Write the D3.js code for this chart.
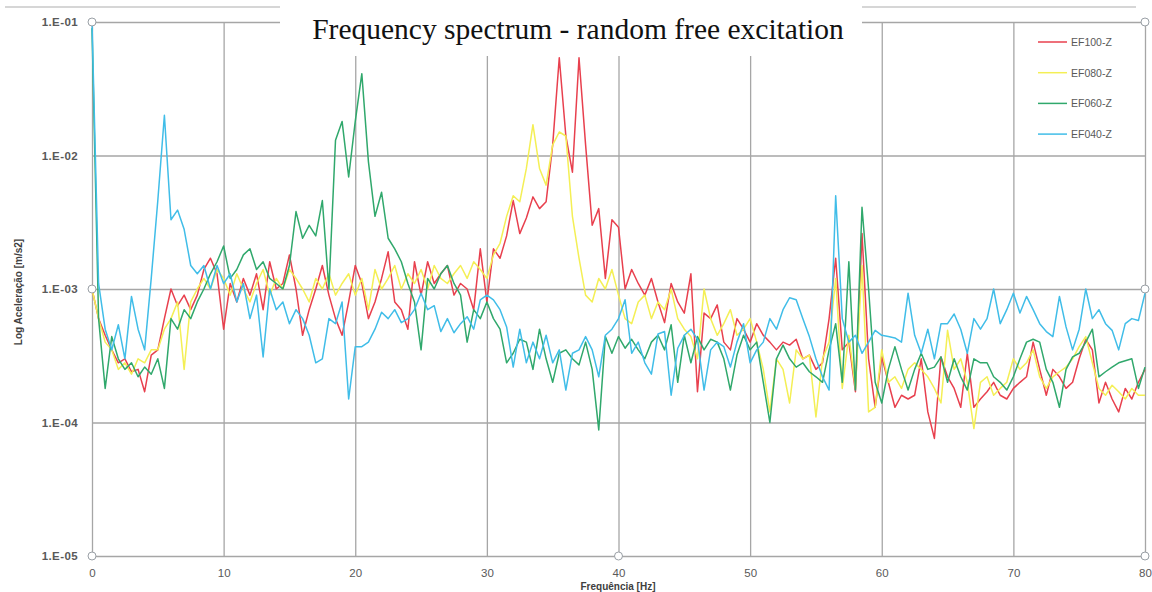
<!DOCTYPE html>
<html>
<head>
<meta charset="utf-8">
<script src="https://cdn.jsdelivr.net/npm/d3@7"></script>
<style>
  body { margin: 0; background: #fff; }
  svg { display: block; }
  .tick text { font-family: "Liberation Sans", Arial, sans-serif; fill: #595959; }
</style>
</head>
<body>
<svg id="chart" width="1152" height="592"></svg>
<script>
'use strict';

// frequency bins, 0.5 Hz step from 0 to 80 Hz
const freqs = d3.range(0, 80.25, 0.5);

const seriesNames = ["EF100-Z", "EF080-Z", "EF060-Z", "EF040-Z"];
const seriesColors = ["#e8404e", "#f4ef55", "#30a86c", "#40bde8"];

const ef100 = [
  1.0e-3, 6e-4, 4.5e-4, 3.5e-4, 2.8e-4, 3e-4, 2.4e-4, 2.5e-4, 1.7e-4, 3.2e-4,
  3.5e-4, 6e-4, 1.0e-3, 7.5e-4, 9e-4, 7e-4, 9e-4, 1.4e-3, 1.7e-3, 1.3e-3,
  5e-4, 1.1e-3, 8e-4, 1.2e-3, 9e-4, 1.3e-3, 7e-4, 1.6e-3, 1.0e-3, 1.1e-3,
  1.8e-3, 1.0e-3, 4.5e-4, 7e-4, 1.0e-3, 1.5e-3, 9e-4, 6e-4, 4.5e-4, 8e-4,
  1.5e-3, 1.1e-3, 6e-4, 8e-4, 1.2e-3, 1.9e-3, 8e-4, 7e-4, 5e-4, 1.6e-3,
  9e-4, 1.6e-3, 1.1e-3, 1.3e-3, 1.5e-3, 9e-4, 1.1e-3, 1.0e-3, 7e-4, 2.0e-3,
  8e-4, 2.0e-3, 1.7e-3, 2.5e-3, 4.6e-3, 2.6e-3, 3.4e-3, 4.9e-3, 4.0e-3, 4.5e-3,
  1.2e-2, 5.4e-2, 1.4e-2, 7.5e-3, 5.4e-2, 1.2e-2, 3.0e-3, 4.0e-3, 1.2e-3, 3.3e-3,
  2.9e-3, 1.0e-3, 1.4e-3, 1.1e-3, 9e-4, 1.2e-3, 8e-4, 5.6e-4, 1.1e-3, 8e-4,
  6.6e-4, 1.3e-3, 1.7e-4, 6.6e-4, 6e-4, 7.6e-4, 4e-4, 3.5e-4, 6e-4, 5e-4,
  4e-4, 5.5e-4, 4.5e-4, 4e-4, 3.5e-4, 4e-4, 3.8e-4, 4.2e-4, 3e-4, 3.2e-4,
  2.5e-4, 2.8e-4, 6e-4, 1.7e-3, 3.5e-4, 4e-4, 1.7e-4, 2.6e-3, 3e-4, 1.3e-4,
  3.1e-4, 2e-4, 1.3e-4, 1.6e-4, 1.5e-4, 1.6e-4, 3e-4, 1.2e-4, 7.6e-5, 3.1e-4,
  2.2e-4, 1.8e-4, 1.3e-4, 3.3e-4, 1.3e-4, 1.5e-4, 1.7e-4, 2e-4, 1.6e-4, 1.5e-4,
  1.8e-4, 2e-4, 2.2e-4, 4e-4, 2.5e-4, 1.6e-4, 2.5e-4, 2.2e-4, 1.8e-4, 2e-4,
  3e-4, 4.2e-4, 3.5e-4, 1.4e-4, 2e-4, 1.5e-4, 1.2e-4, 1.8e-4, 1.5e-4, 2e-4,
  2.5e-4
];

const ef080 = [
  1.0e-3, 6e-4, 4e-4, 3.5e-4, 2.5e-4, 2.8e-4, 2.3e-4, 3e-4, 2.8e-4, 3.5e-4,
  3.5e-4, 5e-4, 6e-4, 8e-4, 2.5e-4, 8e-4, 1.0e-3, 1.2e-3, 1.0e-3, 1.4e-3,
  1.2e-3, 9e-4, 1.3e-3, 1.0e-3, 8e-4, 1.1e-3, 1.4e-3, 9e-4, 1.2e-3, 1.0e-3,
  1.4e-3, 1.2e-3, 1.0e-3, 8e-4, 1.2e-3, 1.0e-3, 1.3e-3, 9e-4, 1.1e-3, 1.3e-3,
  9e-4, 1.2e-3, 7e-4, 1.4e-3, 1.0e-3, 1.2e-3, 1.5e-3, 1.0e-3, 1.3e-3, 1.1e-3,
  1.4e-3, 1.0e-3, 1.5e-3, 1.2e-3, 1.1e-3, 1.3e-3, 1.5e-3, 1.2e-3, 1.6e-3, 1.4e-3,
  1.2e-3, 1.8e-3, 2.2e-3, 3.5e-3, 5e-3, 4.5e-3, 8e-3, 1.7e-2, 8e-3, 6e-3,
  1.2e-2, 1.5e-2, 1.4e-2, 3.5e-3, 1.7e-3, 9e-4, 8e-4, 1.2e-3, 1.0e-3, 1.4e-3,
  9e-4, 6e-4, 5.5e-4, 8e-4, 9e-4, 6e-4, 8e-4, 7e-4, 1.0e-3, 6e-4,
  5e-4, 4.4e-4, 3e-4, 1.0e-3, 6e-4, 4.5e-4, 5.5e-4, 7e-4, 4.5e-4, 5e-4,
  6e-4, 4e-4, 2.5e-4, 1.2e-4, 3e-4, 2.5e-4, 1.4e-4, 3.5e-4, 3e-4, 3.2e-4,
  1.1e-4, 3e-4, 4e-4, 1.2e-3, 1.8e-4, 4.5e-4, 1.8e-4, 1.5e-3, 1.2e-4, 1.3e-4,
  3.5e-4, 2e-4, 2.2e-4, 1.8e-4, 2.5e-4, 2.8e-4, 2.5e-4, 2.2e-4, 1.8e-4, 1.4e-4,
  4.9e-4, 2.5e-4, 3e-4, 2e-4, 9e-5, 2e-4, 2.2e-4, 1.6e-4, 1.8e-4, 2e-4,
  3e-4, 2.5e-4, 2.8e-4, 3.5e-4, 2.2e-4, 1.8e-4, 2.2e-4, 2.4e-4, 2.6e-4, 3e-4,
  3.7e-4, 4.4e-4, 2.8e-4, 1.8e-4, 1.6e-4, 1.9e-4, 1.7e-4, 1.5e-4, 1.8e-4, 1.6e-4,
  1.6e-4
];

const ef060 = [
  9e-2, 6e-4, 1.8e-4, 4.4e-4, 3e-4, 2.5e-4, 2.8e-4, 2.2e-4, 2.6e-4, 2.3e-4,
  3e-4, 1.8e-4, 6e-4, 5e-4, 7e-4, 6e-4, 8e-4, 1.0e-3, 1.3e-3, 1.6e-3,
  2.1e-3, 1.2e-3, 1.4e-3, 1.8e-3, 2.0e-3, 1.4e-3, 1.6e-3, 1.2e-3, 1.1e-3, 1.0e-3,
  1.5e-3, 3.8e-3, 2.4e-3, 3.0e-3, 2.5e-3, 4.6e-3, 1.0e-3, 1.3e-2, 1.8e-2, 6.9e-3,
  1.8e-2, 4.1e-2, 9e-3, 3.5e-3, 5.3e-3, 2.4e-3, 2.0e-3, 1.6e-3, 1.1e-3, 8e-4,
  3.5e-4, 1.2e-3, 1.0e-3, 1.3e-3, 1.5e-3, 1.1e-3, 9e-4, 4e-4, 7e-4, 6e-4,
  8e-4, 6e-4, 5e-4, 2.8e-4, 3.3e-4, 4.2e-4, 4e-4, 2.5e-4, 5e-4, 3e-4,
  2e-4, 3.3e-4, 3.5e-4, 3e-4, 2.7e-4, 4e-4, 2.5e-4, 8.8e-5, 4.4e-4, 3.3e-4,
  4.4e-4, 3.6e-4, 4.2e-4, 3.5e-4, 3e-4, 4e-4, 4.5e-4, 3.5e-4, 5.4e-4, 2e-4,
  4.5e-4, 2.8e-4, 4.4e-4, 3.5e-4, 4.2e-4, 4e-4, 3e-4, 1.75e-4, 3.2e-4, 4.5e-4,
  3.5e-4, 4e-4, 2e-4, 1.0e-4, 3e-4, 3.8e-4, 3e-4, 2.6e-4, 2.8e-4, 2.4e-4,
  2.2e-4, 2e-4, 3.5e-4, 5.5e-4, 2e-4, 1.6e-3, 1.75e-4, 4.1e-3, 1.0e-3, 2e-4,
  1.4e-4, 2.5e-4, 3.7e-4, 2.5e-4, 1.75e-4, 2.5e-4, 3.3e-4, 2.5e-4, 2.6e-4, 3.1e-4,
  2e-4, 3e-4, 2.2e-4, 1.75e-4, 3e-4, 2.8e-4, 2.8e-4, 2.2e-4, 2e-4, 1.75e-4,
  2.2e-4, 3e-4, 4e-4, 4.2e-4, 4e-4, 2.5e-4, 2e-4, 1.3e-4, 2.5e-4, 3.1e-4,
  3.3e-4, 4e-4, 5e-4, 2.2e-4, 2.4e-4, 2.6e-4, 2.8e-4, 2.9e-4, 3e-4, 1.8e-4,
  2.6e-4
];

const ef040 = [
  1e-1, 1.1e-3, 5e-4, 3.5e-4, 5.4e-4, 3e-4, 8.8e-4, 5e-4, 3.5e-4, 1.2e-3,
  4.6e-3, 2e-2, 3.3e-3, 3.9e-3, 2.8e-3, 1.5e-3, 1.3e-3, 1.5e-3, 1.0e-3, 1.5e-3,
  1.1e-3, 1.3e-3, 8e-4, 1.1e-3, 6e-4, 9e-4, 3.1e-4, 1.0e-3, 7e-4, 8e-4,
  5.5e-4, 7e-4, 6e-4, 4.5e-4, 2.8e-4, 3e-4, 6e-4, 5.5e-4, 8e-4, 1.5e-4,
  3.7e-4, 3.7e-4, 4e-4, 5e-4, 6.7e-4, 6e-4, 7e-4, 5.6e-4, 6e-4, 7e-4,
  9.3e-4, 7e-4, 7.5e-4, 4.8e-4, 6e-4, 4.7e-4, 5.5e-4, 6.2e-4, 5e-4, 8.3e-4,
  9e-4, 8.3e-4, 7e-4, 5.2e-4, 2.6e-4, 5e-4, 2.8e-4, 4e-4, 3e-4, 4.5e-4,
  2.8e-4, 3.5e-4, 1.75e-4, 3.3e-4, 3.5e-4, 4.4e-4, 3.5e-4, 2.2e-4, 4.5e-4, 5e-4,
  6e-4, 8.3e-4, 3.3e-4, 4e-4, 2.8e-4, 2.3e-4, 4.6e-4, 4.8e-4, 1.6e-4, 3.6e-4,
  4.5e-4, 5e-4, 4.2e-4, 1.75e-4, 3.5e-4, 4e-4, 3.7e-4, 2.6e-4, 4e-4, 5.5e-4,
  2.8e-4, 3.5e-4, 4e-4, 6e-4, 5e-4, 7e-4, 8.6e-4, 8.3e-4, 6e-4, 4.4e-4,
  3e-4, 2.2e-4, 1.75e-4, 5e-3, 6e-4, 4e-4, 4.5e-4, 3.3e-4, 4e-4, 4.9e-4,
  4.5e-4, 4.4e-4, 4.3e-4, 4e-4, 9.3e-4, 4.5e-4, 3.3e-4, 5e-4, 3e-4, 5.5e-4,
  5.5e-4, 6.5e-4, 5e-4, 3.3e-4, 6e-4, 5e-4, 6e-4, 1e-3, 5.5e-4, 7e-4,
  9.3e-4, 6.6e-4, 8.8e-4, 7e-4, 5.5e-4, 4.8e-4, 4.4e-4, 8.8e-4, 5.2e-4, 3.5e-4,
  5e-4, 1e-3, 6e-4, 7e-4, 5.5e-4, 4.9e-4, 3.5e-4, 5.5e-4, 6e-4, 5.8e-4,
  9.3e-4
];

const seriesValues = [ef100, ef080, ef060, ef040];

const xTicks = [0, 10, 20, 30, 40, 50, 60, 70, 80];
const yTicks = [1e-5, 1e-4, 1e-3, 1e-2, 1e-1];
const yTickLabels = ["1.E-05", "1.E-04", "1.E-03", "1.E-02", "1.E-01"];

const titleText = "Frequency spectrum - random free excitation";
const xTitle = "Frequência [Hz]";
const yTitle = "Log Aceleração [m/s2]";

let svg = d3.select("#chart");

let x = d3.scaleLinear().domain([0, 80]).range([92, 1145]);
let y = d3.scaleLog().domain([1e-5, 1e-1]).range([556, 22]);

// outer chart border (top edge only is visible)
svg.append("line")
    .attr("x1", 5).attr("x2", 1136)
    .attr("y1", 7).attr("y2", 7)
    .style("stroke", "#c8c8c8")
    .style("stroke-width", "1.5px");

// gridlines
let gx = svg.append("g")
    .attr("transform", "translate(0,556)")
    .call(d3.axisBottom(x).tickValues(xTicks).tickSize(-534).tickFormat(d3.format("d")));
gx.select(".domain").remove();
gx.selectAll(".tick line").style("stroke", "#a6a6a6").style("stroke-width", "1.3px");
gx.selectAll(".tick text")
    .attr("y", 13)
    .style("font-size", "11.5px");

let gy = svg.append("g")
    .attr("transform", "translate(92,0)")
    .call(d3.axisLeft(y).tickValues(yTicks).tickSize(-1053)
        .tickFormat(function(d, i) { return yTickLabels[i]; }));
gy.select(".domain").remove();
gy.selectAll(".tick line").style("stroke", "#a6a6a6").style("stroke-width", "1.3px");
gy.selectAll(".tick text")
    .attr("x", -14)
    .style("font-size", "11.5px")
    .style("font-weight", "bold")
    .style("letter-spacing", "0.4px");

// series lines
let line = d3.line()
    .x(function(d, i) { return x(freqs[i]); })
    .y(function(d) { return y(d); });

svg.append("g")
    .selectAll("path")
    .data(seriesValues)
    .enter().append("path")
    .attr("d", line)
    .style("fill", "none")
    .style("stroke", function(d, i) { return seriesColors[i]; })
    .style("stroke-width", "1.5px")
    .style("stroke-linejoin", "round");

// title box covers the top of the plot
svg.append("rect")
    .attr("x", 280).attr("y", 2)
    .attr("width", 582).attr("height", 54)
    .style("fill", "#fff");

svg.append("text")
    .attr("x", 578).attr("y", 39)
    .attr("text-anchor", "middle")
    .style("font-family", "'Liberation Serif', 'Times New Roman', serif")
    .style("font-size", "29.5px")
    .style("fill", "#111")
    .text(titleText);

// axis titles
svg.append("text")
    .attr("x", 618).attr("y", 590)
    .attr("text-anchor", "middle")
    .style("font-family", "'Liberation Sans', Arial, sans-serif")
    .style("font-size", "10px")
    .style("font-weight", "bold")
    .style("fill", "#404040")
    .text(xTitle);

svg.append("text")
    .attr("transform", "translate(22,292) rotate(-90)")
    .attr("text-anchor", "middle")
    .style("font-family", "'Liberation Sans', Arial, sans-serif")
    .style("font-size", "10px")
    .style("font-weight", "bold")
    .style("fill", "#404040")
    .text(yTitle);

// legend
let legend = svg.append("g")
    .selectAll("g")
    .data(seriesNames)
    .enter().append("g")
    .attr("transform", function(d, i) { return "translate(1038," + (42 + i * 30.7) + ")"; });

legend.append("line")
    .attr("x1", 0).attr("x2", 29)
    .style("stroke", function(d, i) { return seriesColors[i]; })
    .style("stroke-width", "1.5px");

legend.append("text")
    .attr("x", 33).attr("y", 4)
    .style("font-family", "'Liberation Sans', Arial, sans-serif")
    .style("font-size", "10.5px")
    .style("fill", "#595959")
    .text(function(d) { return d; });

// selection handles left over from the spreadsheet screenshot
let handles = [[0, 1e-1], [0, 1e-3], [0, 1e-5], [40, 1e-5], [80, 1e-5], [80, 1e-3], [80, 1e-1]];
svg.append("g")
    .selectAll("circle")
    .data(handles)
    .enter().append("circle")
    .attr("cx", function(d) { return x(d[0]); })
    .attr("cy", function(d) { return y(d[1]); })
    .attr("r", 4)
    .style("fill", "#fff")
    .style("stroke", "#9aa0a6")
    .style("stroke-width", "1px");
</script>
</body>
</html>
